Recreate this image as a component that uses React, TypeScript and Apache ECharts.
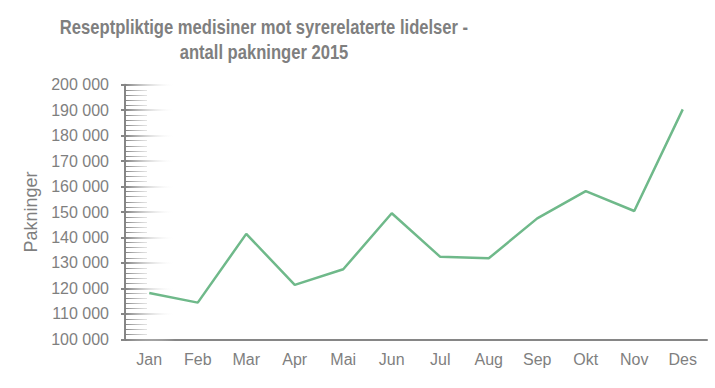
import React, { useEffect, useRef } from "react";
import * as echarts from "echarts";

const months = ["Jan", "Feb", "Mar", "Apr", "Mai", "Jun", "Jul", "Aug", "Sep", "Okt", "Nov", "Des"];
const packages = [118200, 114400, 141400, 121400, 127500, 149500, 132400, 131800, 147500, 158200, 150400, 190300];
const yMin = 100000;
const yMax = 200000;
const yStep = 10000;
const titleText = "Reseptpliktige medisiner mot syrerelaterte lidelser -\nantall pakninger 2015";
const yName = "Pakninger";

const fmt = (v: number) => String(v).replace(/\B(?=(\d{3})+(?!\d))/g, " ");

export default function App() {
  const ref = useRef<HTMLDivElement>(null);
  useEffect(() => {
    document.body.style.margin = "0";
    if (!ref.current) return;
    const chart = echarts.init(ref.current, null, { renderer: "svg" });
    const gridLeft = 125;
    const majorGrad = new echarts.graphic.LinearGradient(
      gridLeft, 0, gridLeft + 50, 0,
      [
        { offset: 0, color: "#808080" },
        { offset: 1, color: "rgba(255,255,255,0)" },
      ],
      true
    );
    const minorGrad = new echarts.graphic.LinearGradient(
      gridLeft, 0, gridLeft + 24, 0,
      [
        { offset: 0, color: "#808080" },
        { offset: 1, color: "rgba(200,200,200,0.4)" },
      ],
      true
    );
    chart.setOption({
      animation: false,
      backgroundColor: "#ffffff",
      graphic: [
        {
          type: "text",
          x: 264,
          y: 14,
          scaleX: 0.83,
          style: {
            text: titleText,
            textAlign: "center",
            textVerticalAlign: "top",
            fontFamily: "'Liberation Sans', Arial, sans-serif",
            fontSize: 20,
            fontWeight: "bold",
            fill: "#7f7f7f",
            lineHeight: 25,
          },
        },
      ],
      grid: { left: gridLeft, right: 8, top: 84.7, bottom: 48.7, outerBoundsMode: "none" },
      xAxis: {
        type: "category",
        data: months,
        boundaryGap: true,
        axisLine: { lineStyle: { color: "#868686", width: 2 } },
        axisTick: { alignWithLabel: true, inside: true, length: 3, lineStyle: { color: "#868686", width: 1.5 } },
        axisLabel: { color: "#7f7f7f", fontSize: 16, margin: 12, fontFamily: "'Liberation Sans', Arial, sans-serif" },
        splitLine: { show: false },
      },
      yAxis: [
        {
          type: "value",
          min: yMin,
          max: yMax,
          interval: yStep,
          position: "left",
          name: yName,
          nameLocation: "middle",
          nameGap: 83,
          nameTextStyle: { color: "#7f7f7f", fontSize: 18, fontFamily: "'Liberation Sans', Arial, sans-serif" },
          axisLine: { show: true, lineStyle: { color: "#868686", width: 2 } },
          axisTick: { show: true, inside: false, length: 4, lineStyle: { color: "#868686", width: 2 } },
          axisLabel: {
            color: "#7f7f7f",
            fontSize: 16,
            margin: 16,
            formatter: (v: number) => fmt(v),
            fontFamily: "'Liberation Sans', Arial, sans-serif",
          },
          splitLine: { show: false },
        },
        {
          type: "value",
          min: yMin,
          max: yMax,
          interval: yStep,
          position: "left",
          offset: 0,
          axisLine: { show: false },
          axisLabel: { show: false },
          splitLine: { show: false },
          axisTick: { show: true, inside: true, length: 50, lineStyle: { color: majorGrad, width: 2 } },
          minorTick: { show: true, splitNumber: 5, length: 22, lineStyle: { color: minorGrad, width: 1 } },
        },
      ],
      series: [
        {
          type: "line",
          data: packages,
          yAxisIndex: 0,
          symbol: "none",
          lineStyle: { color: "#6fb98a", width: 2.5 },
          itemStyle: { color: "#6fb98a" },
        },
      ],
    });
    return () => chart.dispose();
  }, []);
  return <div ref={ref} style={{ width: 715, height: 388 }} />;
}
